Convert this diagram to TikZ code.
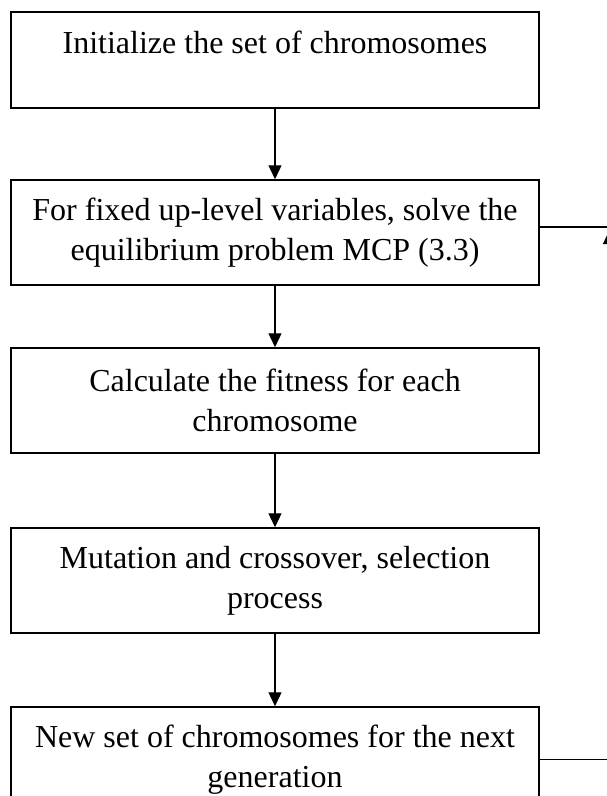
\documentclass[tikz,border=0pt]{standalone}
\usepackage{fontspec}
\setmainfont{Liberation Serif}
\usetikzlibrary{arrows.meta}
\begin{document}
\begin{tikzpicture}[x=1pt,y=-1pt,
  box/.style={draw,line width=1.5pt,minimum width=528pt,inner sep=0pt,align=center,
    font=\fontsize{32}{40}\selectfont},
  arr/.style={line width=1.3pt,-{Triangle[width=13pt,length=14pt]}},
  fb/.style={line width=1.5pt}]
\useasboundingbox (0,0) rectangle (607,796);
\fill[white] (0,0) rectangle (607,796);
\clip (0,0) rectangle (607,796);
\node[box,minimum height=96pt,text height=23pt,text depth=37pt] (b1) at (275,60) {Initialize the set of chromosomes};
\node[box,minimum height=105pt] (b2) at (275,232.5) {For fixed up-level variables, solve the\\equilibrium problem MCP (3.3)};
\node[box,minimum height=105pt] (b3) at (275,400.5) {Calculate the fitness for each\\chromosome};
\node[box,minimum height=105pt] (b4) at (275,580.5) {Mutation and crossover, selection\\process};
\node[box,minimum height=105pt] (b5) at (275,759.5) {New set of chromosomes for the next\\generation};
\draw[arr] (b1) -- (b2);
\draw[arr] (b2) -- (b3);
\draw[arr] (b3) -- (b4);
\draw[arr] (b4) -- (b5);
\coordinate (fbtip) at (609.5,230);
\coordinate (fbr) at (625,227);
\draw[fb,arr] (b5.east) -| (fbtip);
\draw[fb] (b2.east |- fbr) -- (fbr);
\end{tikzpicture}
\end{document}
